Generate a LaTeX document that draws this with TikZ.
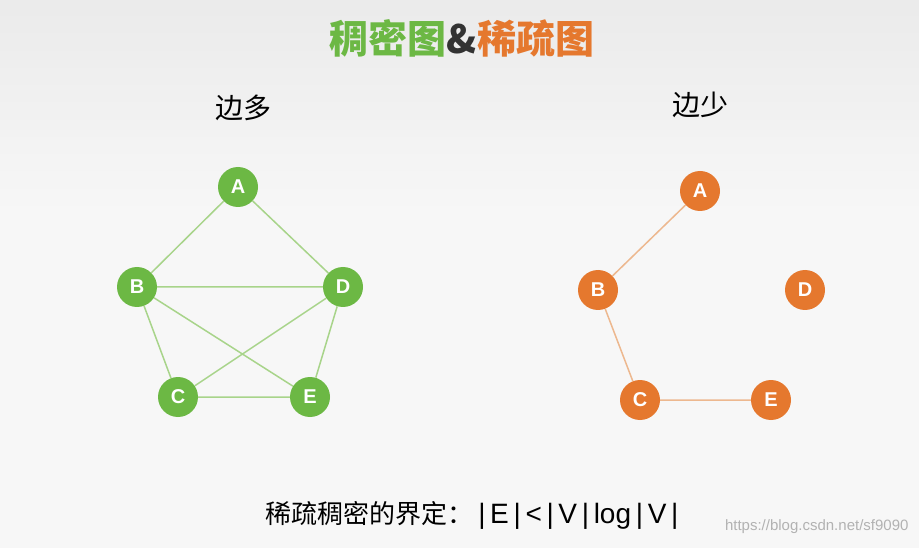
\documentclass[tikz,border=0pt]{standalone}
\usepackage{fontspec}
\setmainfont{Noto Sans CJK SC}
\newfontfamily\cjk{Noto Sans CJK SC}
\newfontfamily\lat{Liberation Sans}
\definecolor{gr}{HTML}{6CB844}
\definecolor{grl}{HTML}{A8D48A}
\definecolor{org}{HTML}{E5782E}
\definecolor{orl}{HTML}{EDB88F}
\begin{document}
\begin{tikzpicture}[x=1pt,y=-1pt,
  gn/.style={circle,fill=gr,minimum size=40pt,inner sep=0pt,text=white,font=\lat\bfseries\fontsize{20}{20}\selectfont},
  on/.style={circle,fill=org,minimum size=40pt,inner sep=0pt,text=white,font=\lat\bfseries\fontsize{20}{20}\selectfont},
  ge/.style={grl,line width=1.5pt},
  oe/.style={orl,line width=1.5pt}]
\useasboundingbox (0,0) rectangle (919,548);
\shade[top color=black!8,bottom color=black!3] (0,0) rectangle (919,220);
\fill[black!3] (0,220) rectangle (919,548);
\node (title) at (462,38) {\cjk\bfseries\fontsize{39}{39}\selectfont\textcolor{gr}{稠密图}\textcolor{black!80}{\&}\textcolor{org}{稀疏图}};
\node (l1) at (243,108) {\cjk\fontsize{28}{28}\selectfont 边多};
\node (l2) at (700,105) {\cjk\fontsize{28}{28}\selectfont 边少};
\node[gn] (A) at (238,187) {A};
\node[gn] (B) at (137,287) {B};
\node[gn] (D) at (343,287) {D};
\node[gn] (C) at (178,397) {C};
\node[gn] (E) at (310,397) {E};
\draw[ge] (A)--(B) (A)--(D) (B)--(D) (B)--(C) (B)--(E) (D)--(C) (D)--(E) (C)--(E);
\node[on] (A2) at (700,191) {A};
\node[on] (B2) at (598,290) {B};
\node[on] (D2) at (805,290) {D};
\node[on] (C2) at (640,400) {C};
\node[on] (E2) at (771,400) {E};
\draw[oe] (A2)--(B2) (B2)--(C2) (C2)--(E2);
\node (bt) at (472,515) {\cjk\fontsize{26}{26}\selectfont 稀疏稠密的界定：{\lat\fontsize{28}{28}\selectfont\,|\,E\,|\,<\,|\,V\,|\,log\,|\,V\,|}};
\node[anchor=east,text=black!30] (wm) at (912,527) {\lat\fontsize{15}{15}\selectfont https://blog.csdn.net/sf9090};
\end{tikzpicture}
\end{document}
